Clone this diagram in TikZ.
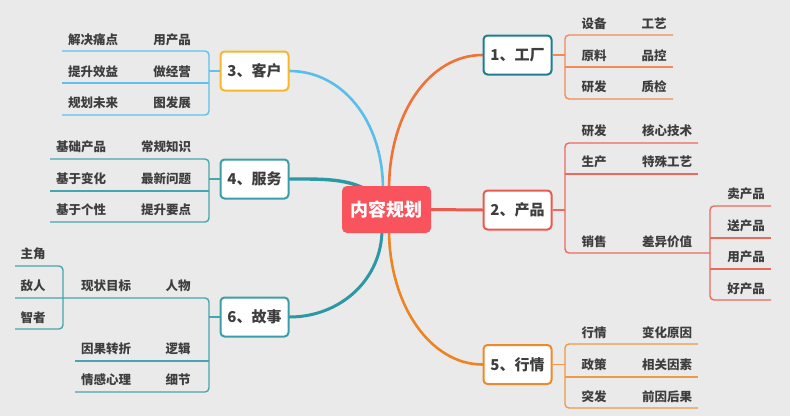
\documentclass[tikz,border=0pt]{standalone}
\usepackage{fontspec}
\setmainfont{Noto Sans CJK SC}
\usetikzlibrary{calc}
\definecolor{bgc}{HTML}{EAEAEA}
\definecolor{cred}{HTML}{F9545E}
\definecolor{txt}{HTML}{3E3E3E}
\definecolor{bA}{HTML}{1F7D91}
\definecolor{bB}{HTML}{EA5A50}
\definecolor{bE}{HTML}{EC8A2C}
\definecolor{bC}{HTML}{F6B72A}
\definecolor{bD}{HTML}{3A9EA8}
\definecolor{cA}{HTML}{F07237}
\definecolor{cB}{HTML}{EB5A4C}
\definecolor{cE}{HTML}{EC8422}
\definecolor{cC}{HTML}{59BEEA}
\definecolor{cD}{HTML}{2B98A4}
\definecolor{lA}{HTML}{F18A55}
\definecolor{lB}{HTML}{EC6A5C}
\definecolor{lE}{HTML}{F09A45}
\definecolor{lC}{HTML}{5EC2EA}
\definecolor{lD}{HTML}{46A6AF}
\pgfdeclarelayer{bgl}
\pgfdeclarelayer{lnl}
\pgfsetlayers{bgl,lnl,main}
\begin{document}
\begin{tikzpicture}[x=1pt,y=-1pt,
  centertopic/.style={fill=cred,text=white,rounded corners=5pt,minimum width=89pt,minimum height=47pt,inner sep=0pt,font=\fontsize{18}{22}\selectfont\bfseries},
  topic/.style={fill=white,line width=2pt,rounded corners=4pt,minimum width=68pt,minimum height=39pt,inner sep=0pt,text=txt,font=\fontsize{15}{18}\selectfont\bfseries},
  sub/.style={inner sep=0pt,text=txt,font=\fontsize{12.5}{14}\selectfont\bfseries},
  sl/.style={line width=1.4pt,rounded corners=4pt},
  cv/.style={line width=2.6pt,line cap=round}
]
\begin{pgfonlayer}{bgl}
\fill[bgc] (0,0) rectangle (790,416);
\end{pgfonlayer}
\useasboundingbox (0,0) rectangle (790,416);

% main topics
\node[centertopic] (c) at (386.5,209.5) {内容规划};
\node[topic,draw=bA] (t1) at (517.5,55) {1、工厂};
\node[topic,draw=bB] (t2) at (517.5,210) {2、产品};
\node[topic,draw=bE] (t5) at (517.5,364.5) {5、行情};
\node[topic,draw=bC] (t3) at (254.5,71) {3、客户};
\node[topic,draw=bD] (t4) at (254.5,179) {4、服务};
\node[topic,draw=bD] (t6) at (254.5,317) {6、故事};

% main branches
\begin{pgfonlayer}{lnl}
\coordinate (s3) at ($(c.north)+(-3.5,4)$);
\coordinate (s1) at ($(c.north)+(2.5,4)$);
\coordinate (s6) at ($(c.south)+(-4.5,-4)$);
\coordinate (s5) at ($(c.south)+(2.5,-4)$);
\draw[cv,cC] (s3) .. controls +(0,-70) and +(52,0) .. (t3.east);
\draw[cv,cA] (s1) .. controls +(0,-78) and +(-52,0) .. (t1.west);
\draw[cv,cD,line width=3.4pt] (c.center) .. controls +(-20,-32) and +(42,0) .. (t4.east);
\draw[cv,cD,line width=3pt] (s6) .. controls +(0,50) and +(51,0) .. (t6.east);
\draw[cv,cE] (s5) .. controls +(0,76) and +(-52,0) .. (t5.west);
\draw[cv,cB,line width=3pt] (c.east) -- (t2.west);
\end{pgfonlayer}

% ---------- 1 工厂
\coordinate (j1) at (565,55);
\draw[sl,lA] (t1.east) -- (j1);
\draw[sl,lA] (673,35) -- (565,35) -- (565,99) -- (673,99);
\draw[sl,lA] (565,67) -- (673,67);
\node[sub] (a1) at (594,24) {设备};
\node[sub] (a2) at (654,24) {工艺};
\node[sub] (a3) at (594,55.5) {原料};
\node[sub] (a4) at (654,55.5) {品控};
\node[sub] (a5) at (594,87) {研发};
\node[sub] (a6) at (654,87) {质检};

% ---------- 2 产品
\coordinate (j2) at (565,210);
\draw[sl,lB] (t2.east) -- (j2);
\draw[sl,lB] (698,143) -- (565,143) -- (565,253) -- (710,253);
\draw[sl,lB] (565,174) -- (698,174);
\draw[sl,lB] (771,206) -- (710,206) -- (710,300) -- (771,300);
\draw[sl,lB] (710,238) -- (771,238);
\draw[sl,lB] (710,269) -- (771,269);
\node[sub] (p1) at (594,130.5) {研发};
\node[sub] (p2) at (667,130.5) {核心技术};
\node[sub] (p3) at (594,162) {生产};
\node[sub] (p4) at (667,162) {特殊工艺};
\node[sub] (p5) at (594,241.5) {销售};
\node[sub] (p6) at (667,241.5) {差异价值};
\node[sub] (p7) at (746,194) {卖产品};
\node[sub] (p8) at (746,226) {送产品};
\node[sub] (p9) at (746,257) {用产品};
\node[sub] (p10) at (746,288.5) {好产品};

% ---------- 5 行情
\coordinate (j5) at (565,364.5);
\draw[sl,lE] (t5.east) -- (j5);
\draw[sl,lE] (698,344) -- (565,344) -- (565,408) -- (698,408);
\draw[sl,lE] (565,377) -- (698,377);
\node[sub] (h1) at (594,333) {行情};
\node[sub] (h2) at (667,333) {变化原因};
\node[sub] (h3) at (594,365) {政策};
\node[sub] (h4) at (667,365) {相关因素};
\node[sub] (h5) at (594,397) {突发};
\node[sub] (h6) at (667,397) {前因后果};

% ---------- 3 客户
\coordinate (j3) at (209,71);
\draw[sl,lC] (t3.west) -- (j3);
\draw[sl,lC] (62,51) -- (209,51) -- (209,115) -- (62,115);
\draw[sl,lC] (62,83) -- (209,83);
\node[sub] (k1) at (93,39.5) {解决痛点};
\node[sub] (k2) at (172,39.5) {用产品};
\node[sub] (k3) at (93,71.5) {提升效益};
\node[sub] (k4) at (172,71.5) {做经营};
\node[sub] (k5) at (93,103) {规划未来};
\node[sub] (k6) at (172,103) {图发展};

% ---------- 4 服务
\coordinate (j4) at (209,179);
\draw[sl,lD] (t4.west) -- (j4);
\draw[sl,lD] (50,159) -- (209,159) -- (209,222) -- (50,222);
\draw[sl,lD] (50,191) -- (209,191);
\node[sub] (f1) at (81,147) {基础产品};
\node[sub] (f2) at (166,147) {常规知识};
\node[sub] (f3) at (81,179) {基于变化};
\node[sub] (f4) at (166,179) {最新问题};
\node[sub] (f5) at (81,210) {基于个性};
\node[sub] (f6) at (166,210) {提升要点};

% ---------- 6 故事
\coordinate (j6) at (209,317);
\draw[sl,lD] (t6.west) -- (j6);
\draw[sl,lD] (15,298) -- (209,298) -- (209,392) -- (75,392);
\draw[sl,lD] (75,361) -- (209,361);
\draw[sl,lD] (15,266) -- (63,266) -- (63,329) -- (15,329);
\node[sub] (g1) at (33,254) {主角};
\node[sub] (g2) at (33,286) {敌人};
\node[sub] (g3) at (33,318) {智者};
\node[sub] (g4) at (106,285.5) {现状目标};
\node[sub] (g5) at (178,285.5) {人物};
\node[sub] (g6) at (106,348.5) {因果转折};
\node[sub] (g7) at (178,348.5) {逻辑};
\node[sub] (g8) at (106,380) {情感心理};
\node[sub] (g9) at (178,380) {细节};
\end{tikzpicture}
\end{document}
